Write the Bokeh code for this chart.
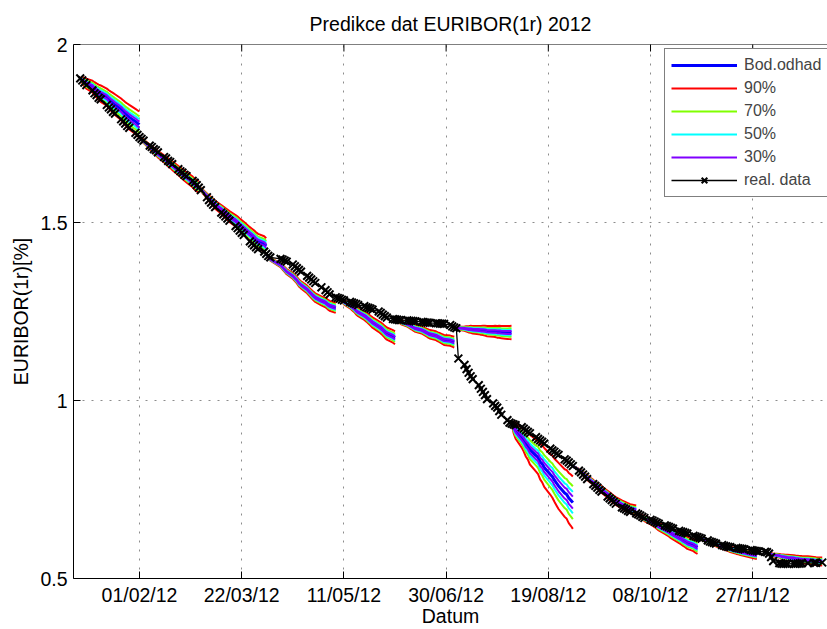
import math
import pandas as pd
from bokeh.plotting import figure
from bokeh.models import FixedTicker, Legend, LegendItem, Range1d, DatetimeTickFormatter, Span
from bokeh.embed import file_html
from bokeh.resources import INLINE

# ---------------- data ----------------
holidays = ["2012-04-06", "2012-04-09", "2012-05-01", "2012-12-25", "2012-12-26"]

real_jan = [1.905, 1.899, 1.893, 1.886, 1.871, 1.863, 1.858, 1.850, 1.846, 1.830, 1.823,
            1.818, 1.811, 1.806, 1.790, 1.784, 1.778, 1.771, 1.766, 1.752, 1.746]
real_feb = [1.740, 1.735, 1.730, 1.716, 1.712, 1.706, 1.703, 1.697, 1.684, 1.680, 1.673,
            1.670, 1.664, 1.650, 1.644, 1.640, 1.634, 1.630, 1.617, 1.612, 1.605]
real_mar = [1.598, 1.591, 1.571, 1.563, 1.556, 1.550, 1.543, 1.528, 1.523, 1.517, 1.511,
            1.505, 1.490, 1.484, 1.477, 1.471, 1.465, 1.447, 1.441, 1.436, 1.430, 1.425]
real_apr = [1.418, 1.412, 1.406, 1.402, 1.398, 1.396, 1.393, 1.390, 1.382, 1.377, 1.372,
            1.367, 1.362, 1.350, 1.345, 1.340, 1.335, 1.330, 1.318]
real_may = [1.310, 1.304, 1.298, 1.290, 1.288, 1.286, 1.283, 1.281, 1.277, 1.275, 1.273,
            1.271, 1.268, 1.265, 1.262, 1.260, 1.258, 1.255, 1.250, 1.246, 1.241, 1.237]
real_jun = [1.233, 1.229, 1.228, 1.227, 1.226, 1.226, 1.225, 1.224, 1.224, 1.223, 1.222,
            1.221, 1.220, 1.219, 1.219, 1.218, 1.217, 1.217, 1.216, 1.216, 1.215]
real_jul = [1.212, 1.208, 1.205, 1.203, 1.118, 1.100, 1.088, 1.078, 1.068, 1.060, 1.043,
            1.033, 1.024, 1.015, 1.004, 0.992, 0.985, 0.980, 0.970, 0.960, 0.945, 0.938]
real_aug = [0.935, 0.933, 0.931, 0.925, 0.921, 0.916, 0.912, 0.908, 0.897, 0.892, 0.888,
            0.884, 0.879, 0.865, 0.860, 0.856, 0.851, 0.847, 0.835, 0.831, 0.826, 0.821, 0.816]
real_sep = [0.803, 0.798, 0.792, 0.786, 0.779, 0.765, 0.760, 0.755, 0.749, 0.744, 0.730,
            0.725, 0.720, 0.715, 0.710, 0.700, 0.697, 0.694, 0.690, 0.687]
real_oct = [0.683, 0.680, 0.677, 0.673, 0.670, 0.665, 0.663, 0.660, 0.657, 0.654, 0.649,
            0.647, 0.645, 0.642, 0.640, 0.634, 0.632, 0.630, 0.628, 0.626, 0.620, 0.618, 0.616]
real_nov = [0.614, 0.612, 0.607, 0.604, 0.602, 0.600, 0.598, 0.594, 0.592, 0.590, 0.589,
            0.588, 0.586, 0.585, 0.584, 0.583, 0.582, 0.580, 0.579, 0.578, 0.577, 0.576]
real_dec = [0.575, 0.574, 0.570, 0.560, 0.549, 0.543, 0.542, 0.541, 0.542, 0.541, 0.542,
            0.541, 0.542, 0.542, 0.543, 0.543, 0.544, 0.544, 0.545]

# monthly forecast fans: start date, point forecast (Bod.odhad), 90% half-width at 21-day horizon
fan_starts = ["2012-01-03", "2012-02-01", "2012-03-01", "2012-04-03", "2012-05-09", "2012-06-05",
              "2012-07-05", "2012-08-01", "2012-08-31", "2012-10-02", "2012-10-31", "2012-12-05"]
fan_point = [
    [1.905, 1.900, 1.895, 1.890, 1.882, 1.876, 1.871, 1.866, 1.862, 1.852, 1.846,
     1.841, 1.836, 1.831, 1.818, 1.812, 1.806, 1.801, 1.796, 1.784, 1.779, 1.775],
    [1.740, 1.734, 1.728, 1.713, 1.708, 1.702, 1.698, 1.692, 1.679, 1.675, 1.669,
     1.665, 1.660, 1.646, 1.641, 1.636, 1.631, 1.627, 1.614, 1.608, 1.603, 1.600],
    [1.598, 1.593, 1.575, 1.568, 1.562, 1.556, 1.550, 1.537, 1.532, 1.527, 1.522, 1.517,
     1.505, 1.500, 1.494, 1.489, 1.484, 1.468, 1.463, 1.458, 1.452, 1.447, 1.440, 1.434],
    [1.412, 1.404, 1.397, 1.380, 1.374, 1.368, 1.362, 1.350, 1.344, 1.338, 1.330,
     1.325, 1.312, 1.306, 1.300, 1.294, 1.289, 1.280, 1.275, 1.270, 1.266, 1.260],
    [1.286, 1.281, 1.276, 1.266, 1.262, 1.258, 1.252, 1.248, 1.238, 1.234,
     1.229, 1.224, 1.219, 1.208, 1.204, 1.199, 1.193, 1.188, 1.180, 1.176],
    [1.228, 1.226, 1.223, 1.220, 1.214, 1.211, 1.208, 1.205, 1.202, 1.198, 1.195,
     1.192, 1.189, 1.186, 1.182, 1.179, 1.176, 1.173, 1.170, 1.168, 1.166, 1.164],
    [1.204, 1.203, 1.202, 1.201, 1.200, 1.200, 1.199, 1.198, 1.197, 1.197,
     1.196, 1.195, 1.194, 1.194, 1.193, 1.193, 1.192, 1.191, 1.191, 1.191],
    [0.935, 0.925, 0.915, 0.895, 0.888, 0.878, 0.872, 0.862, 0.845, 0.840, 0.828, 0.822,
     0.812, 0.792, 0.786, 0.776, 0.768, 0.760, 0.740, 0.736, 0.726, 0.720, 0.713],
    [0.816, 0.805, 0.800, 0.795, 0.789, 0.783, 0.770, 0.765, 0.760, 0.755, 0.750,
     0.737, 0.732, 0.727, 0.722, 0.718, 0.708, 0.705, 0.702, 0.699, 0.696, 0.692],
    [0.680, 0.676, 0.672, 0.668, 0.660, 0.657, 0.654, 0.650, 0.646, 0.637, 0.634,
     0.631, 0.627, 0.624, 0.614, 0.611, 0.607, 0.604, 0.600, 0.594, 0.590, 0.587],
    [0.616, 0.613, 0.611, 0.605, 0.603, 0.600, 0.598, 0.596, 0.590, 0.588, 0.586,
     0.584, 0.582, 0.577, 0.576, 0.574, 0.573, 0.572, 0.568, 0.567, 0.566, 0.565],
    [0.570, 0.568, 0.566, 0.564, 0.562, 0.561, 0.560, 0.559, 0.557,
     0.556, 0.555, 0.554, 0.553, 0.552, 0.550, 0.549, 0.548],
]
fan_hw90 = [0.037, 0.016, 0.021, 0.014, 0.019, 0.015, 0.020, 0.072, 0.013, 0.018, 0.010, 0.013]
# growth of the interval width with forecast horizon (fraction of the 21-day width)
spread_profile = [0.0, 0.22, 0.31, 0.38, 0.44, 0.49, 0.53, 0.58, 0.62, 0.65, 0.69, 0.72, 0.76,
                  0.79, 0.82, 0.84, 0.87, 0.90, 0.93, 0.95, 0.98, 1.00, 1.02, 1.05, 1.07]
band_labels = ["90%", "70%", "50%", "30%"]
band_ratio = [1.0, 0.63, 0.41, 0.23]
band_colors = ["#ff0000", "#80ff00", "#00ffff", "#8000ff"]

tick_dates = ["2012-02-01", "2012-03-22", "2012-05-11", "2012-06-30",
              "2012-08-19", "2012-10-08", "2012-11-27"]
y_ticks = [0.5, 1.0, 1.5, 2.0]
y_tick_labels = ["0.5", "1", "1.5", "2"]

# ---------------- build ----------------
def ms(d):
    return (pd.Timestamp(d) - pd.Timestamp("1970-01-01")) / pd.Timedelta(milliseconds=1)

days = pd.bdate_range("2012-01-03", "2012-12-31")
days = days[~days.isin(pd.to_datetime(holidays))]
real = (real_jan + real_feb + real_mar + real_apr + real_may + real_jun +
        real_jul + real_aug + real_sep + real_oct + real_nov + real_dec)
x_real = [ms(d) for d in days]
x_ticks = [ms(d) for d in tick_dates]

FONT = "Liberation Sans"
FS = "19.5px"
p = figure(width=827, height=629, output_backend="svg", toolbar_location=None,
           x_axis_type="datetime",
           x_range=Range1d(ms("2011-12-30 17:00"), ms("2013-01-02 14:00")),
           y_range=Range1d(0.5, 2.0),
           min_border_left=73, min_border_right=0, min_border_top=44, min_border_bottom=51)
p.outline_line_color = None
p.background_fill_color = "white"

xt = FixedTicker(ticks=x_ticks)
yt = FixedTicker(ticks=y_ticks)
fmt = DatetimeTickFormatter(days="%d/%m/%y", months="%d/%m/%y", years="%d/%m/%y")

bottom_axis = p.below[0]
left_axis = p.left[0]
bottom_axis.ticker = xt
bottom_axis.formatter = fmt
left_axis.ticker = yt
left_axis.major_label_overrides = dict(zip(y_ticks, y_tick_labels))
for g, t in ((p.xgrid, xt), (p.ygrid, yt)):
    g.ticker = t
    g.grid_line_color = "#8c8c8c"
    g.grid_line_dash = "2 7"
    g.grid_line_width = 1

for ax in (bottom_axis, left_axis):
    ax.major_tick_in = 7
    ax.major_tick_out = 0
    ax.minor_tick_in = 0
    ax.minor_tick_out = 0
    ax.axis_line_color = "black"
    ax.major_tick_line_color = "black"
    ax.major_label_text_font = FONT
    ax.major_label_text_font_size = FS
    ax.major_label_text_color = "black"
    ax.axis_label_text_font = FONT
    ax.axis_label_text_font_size = FS
    ax.axis_label_text_font_style = "normal"
    ax.axis_label_text_color = "black"
bottom_axis.axis_label = "Datum"
bottom_axis.major_label_standoff = 5
bottom_axis.axis_label_standoff = -4
left_axis.axis_label = "EURIBOR(1r)[%]"
left_axis.major_label_standoff = 6
left_axis.axis_label_standoff = 5

# top border of the box with inward ticks
p.add_layout(Span(location=y_ticks[-1], dimension="width", line_color="black", line_width=1))
p.scatter(x_ticks, [y_ticks[-1]] * len(x_ticks), marker="dash", angle=math.pi / 2,
          size=14, line_color="black", line_width=1)

p.title.text = "Predikce dat EURIBOR(1r) 2012"
p.title.align = "center"
p.title.text_font = FONT
p.title.text_font_size = FS
p.title.text_font_style = "normal"
p.title.text_color = "black"
p.title.standoff = 19

# fans
centre_xs, centre_ys = [], []
band_xs = [[] for _ in band_labels]
band_ys = [[] for _ in band_labels]
for start, pts, hw in zip(fan_starts, fan_point, fan_hw90):
    i0 = days.get_loc(pd.Timestamp(start))
    fx = x_real[i0:i0 + len(pts)]
    centre_xs.append(fx)
    centre_ys.append(pts)
    for b, r in enumerate(band_ratio):
        up = [v + hw * r * spread_profile[k] for k, v in enumerate(pts)]
        lo = [v - hw * r * spread_profile[k] for k, v in enumerate(pts)]
        band_xs[b] += [fx, fx]
        band_ys[b] += [up, lo]

r_centre = p.multi_line(centre_xs, centre_ys, line_color="#0000ff", line_width=3)
band_renderers = []
for b, c in enumerate(band_colors):
    band_renderers.append(p.multi_line(band_xs[b], band_ys[b], line_color=c, line_width=2))

r_line = p.line(x_real, real, line_color="black", line_width=1.3)
r_pts = p.scatter(x_real, real, marker="x", size=11, line_color="black", line_width=2)

items = [LegendItem(label="Bod.odhad", renderers=[r_centre])]
for lab, rr in zip(band_labels, band_renderers):
    items.append(LegendItem(label=lab, renderers=[rr]))
items.append(LegendItem(label="real. data", renderers=[r_line, r_pts]))

legend = Legend(items=items, location=(591, 381), orientation="vertical",
                border_line_color="black", border_line_width=1,
                background_fill_color="white", background_fill_alpha=1.0,
                label_text_font=FONT, label_text_font_size="16px",
                glyph_width=66, glyph_height=20, label_height=20, label_width=90,
                spacing=3, padding=6, margin=0, label_standoff=7)
p.add_layout(legend)

open("out.html", "w").write(file_html(p, INLINE))
